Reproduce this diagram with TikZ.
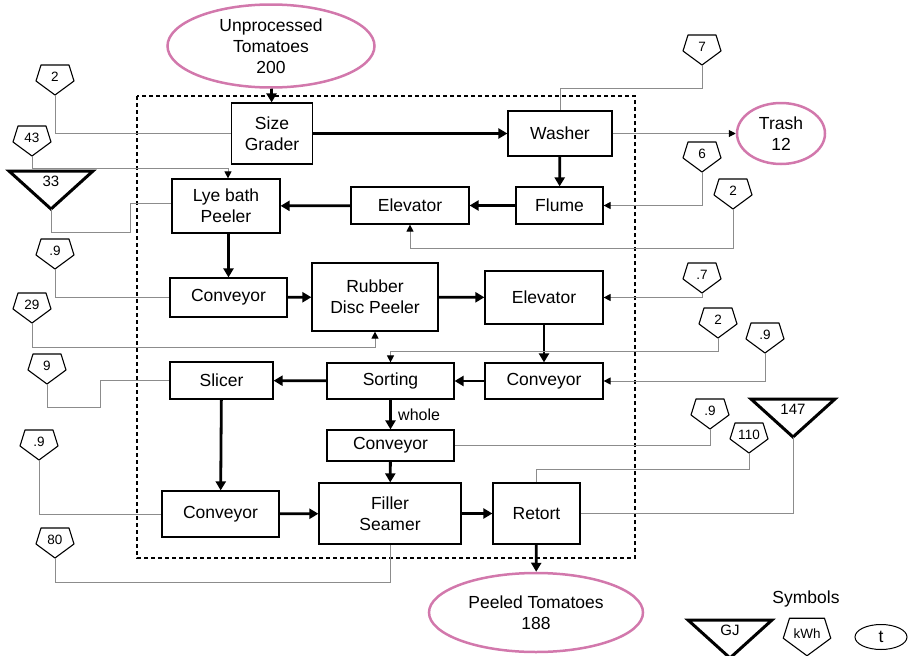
\documentclass[tikz,border=0pt]{standalone}
\usepackage{fontspec}
\setmainfont{Liberation Sans}
\usetikzlibrary{arrows.meta,shapes.geometric}

\definecolor{stockpink}{RGB}{210,120,172}
\definecolor{feedgray}{RGB}{140,140,140}

\tikzset{
	kwh/.pic={
		\draw[black, line width=1.1pt, line join=round] (-14,-15) -- (14,-15) -- (19,1) -- (0,15) -- (-19,1) -- cycle;
		\node[font=\fontsize{13.5}{13.5}\selectfont, inner sep=0pt] (-lbl) at (0,-3) {#1};
		\coordinate (-tip) at (0,15);
	},
	gj/.pic={
		\draw[black, line width=3pt, line join=miter] (-42,-19) -- (42,-19) -- (0,19) -- cycle;
		\node[font=\fontsize{15}{15}\selectfont, inner sep=0pt] (-lbl) at (0,-9) {#1};
		\coordinate (-tip) at (0,19);
	}
}

\begin{document}
\begin{tikzpicture}[x=1pt, y=-1pt, font=\fontsize{17.5}{21}\selectfont,
	proc/.style={draw, line width=1.2pt, inner sep=0pt, align=center},
	stock/.style={ellipse, draw=stockpink, line width=2.5pt, inner sep=0pt, align=center},
	flow/.style={line width=2.8pt, -{Triangle[length=9pt,width=10pt]}},
	feed/.style={draw=feedgray, line width=1pt},
	feedin/.style={feed, -{Triangle[length=7pt,width=7pt,color=black]}}]
	\useasboundingbox (0,0) rectangle (908,656);
	\draw[line width=1.1pt, dash pattern=on 4pt off 3pt] (137,96) rectangle (635,558);

	\node[stock, minimum width=207, minimum height=83] (raw) at (271,46) {Unprocessed\\Tomatoes\\200};
	\node[stock, minimum width=88, minimum height=61] (trash) at (781,133.5) {Trash\\12};
	\node[stock, minimum width=214, minimum height=79] (peeled) at (536,612.5) {Peeled Tomatoes\\188};

	\node[proc, minimum width=81, minimum height=61] (grader) at (272,133.5) {Size\\Grader};
	\node[proc, minimum width=104, minimum height=45] (washer) at (560,133.5) {Washer};
	\node[proc, minimum width=87, minimum height=37] (flume) at (559.5,205.5) {Flume};
	\node[proc, minimum width=118, minimum height=37] (elev1) at (410,205.5) {Elevator};
	\node[proc, minimum width=108, minimum height=54] (lye) at (226,206) {Lye bath\\Peeler};
	\node[proc, minimum width=117, minimum height=39] (conv1) at (228.5,297.5) {Conveyor};
	\node[proc, minimum width=126, minimum height=68] (rubber) at (375,297) {Rubber\\Disc Peeler};
	\node[proc, minimum width=118, minimum height=53] (elev2) at (544,297.5) {Elevator};
	\node[proc, minimum width=118, minimum height=36] (conv2) at (544,381) {Conveyor};
	\node[proc, minimum width=127, minimum height=36] (sorting) at (390.5,381) {Sorting};
	\node[proc, minimum width=103, minimum height=37] (slicer) at (221.5,380.5) {Slicer};
	\node[proc, minimum width=127, minimum height=31] (conv3) at (390.5,445.5) {Conveyor};
	\node[proc, minimum width=117, minimum height=46] (conv4) at (220.5,514) {Conveyor};
	\node[proc, minimum width=142, minimum height=61] (filler) at (390,513.5) {Filler\\Seamer};
	\node[proc, minimum width=87, minimum height=61] (retort) at (536.5,513.5) {Retort};

	\draw[flow] (raw) -- (grader);
	\draw[flow] (grader) -- (washer);
	\draw[flow] (washer) -- (flume);
	\draw[flow] (flume) -- (elev1);
	\draw[flow] (elev1) -- (lye);
	\draw[flow] (lye.south -| conv1) -- (conv1);
	\draw[flow] (conv1) -- (rubber);
	\draw[flow] (rubber) -- (elev2);
	\draw[flow] (elev2) -- (conv2);
	\draw[flow] (conv2) -- (sorting);
	\draw[flow] (sorting) -- (slicer);
	\draw[flow] (sorting) -- (conv3) node[midway, right, xshift=3pt, font=\fontsize{16}{16}\selectfont] {whole};
	\draw[flow] (slicer) -- (conv4);
	\draw[flow] (conv3) -- (filler);
	\draw[flow] (conv4) -- (filler);
	\draw[flow] (filler) -- (retort);
	\draw[flow] (retort) -- (peeled);
	\draw[feedin] (washer) -- (trash);

	% energy inputs
	\pic (k2a) at (55,80) {kwh=2};
	\pic (k43) at (32,141) {kwh=43};
	\pic (g33) at (51,190) {gj=33};
	\pic (k09a) at (55,254) {kwh=.9};
	\pic (k29) at (32,308) {kwh=29};
	\pic (k9) at (47,369) {kwh=9};
	\pic (k09c) at (39,445) {kwh=.9};
	\pic (k80) at (55,543) {kwh=80};
	\pic (k7) at (702,50) {kwh=7};
	\pic (k6) at (702,157) {kwh=6};
	\pic (k2b) at (733,194) {kwh=2};
	\pic (k07) at (702,278) {kwh=.7};
	\pic (k2c) at (718,323) {kwh=2};
	\pic (k09d) at (765,338) {kwh=.9};
	\pic (k09e) at (710,414) {kwh=.9};
	\pic (k110) at (749,438) {kwh=110};
	\pic (g147) at (793,418) {gj=147};

	\draw[feed] (k2a-tip) |- (grader);
	\draw[feedin] (k43-tip) -- ++(0,12) -| ([xshift=2pt]lye.north);
	\draw[feed] (g33-tip) |- (130,232) |- ([yshift=3pt]lye.west);
	\draw[feed] (k09a-tip) |- (conv1);
	\draw[feedin] (k29-tip) -- ++(0,24) -| (rubber.south);
	\draw[feed] (k9-tip) |- (100,407) |- (slicer);
	\draw[feed] (k09c-tip) |- (conv4);
	\draw[feed] (k80-tip) -- ++(0,24) -| (filler.south);
	\draw[feed] (k7-tip) -- ++(0,23) -| (washer.north);
	\draw[feedin] (k6-tip) |- (flume);
	\draw[feedin] (k2b-tip) -- ++(0,39) -| (elev1.south);
	\draw[feedin] (k07-tip) |- (elev2);
	\draw[feedin] (k2c-tip) -- ++(0,13) -| (sorting.north);
	\draw[feedin] (k09d-tip) |- (conv2);
	\draw[feed] (k09e-tip) |- (conv3);
	\draw[feed] (k110-tip) -- ++(0,16) -| (retort.north);
	\draw[feed] (g147-tip) |- (retort);

	% legend
	\node (symbols) at (806,599) {Symbols};
	\pic (lgj) at (730,639) {gj=GJ};
	\pic[scale=1.25] (lkwh) at (807,637) {kwh=kWh};
	\node[ellipse, draw, line width=1pt, minimum width=52, minimum height=25, inner sep=0pt] (lt) at (881,637) {t};
\end{tikzpicture}
\end{document}
